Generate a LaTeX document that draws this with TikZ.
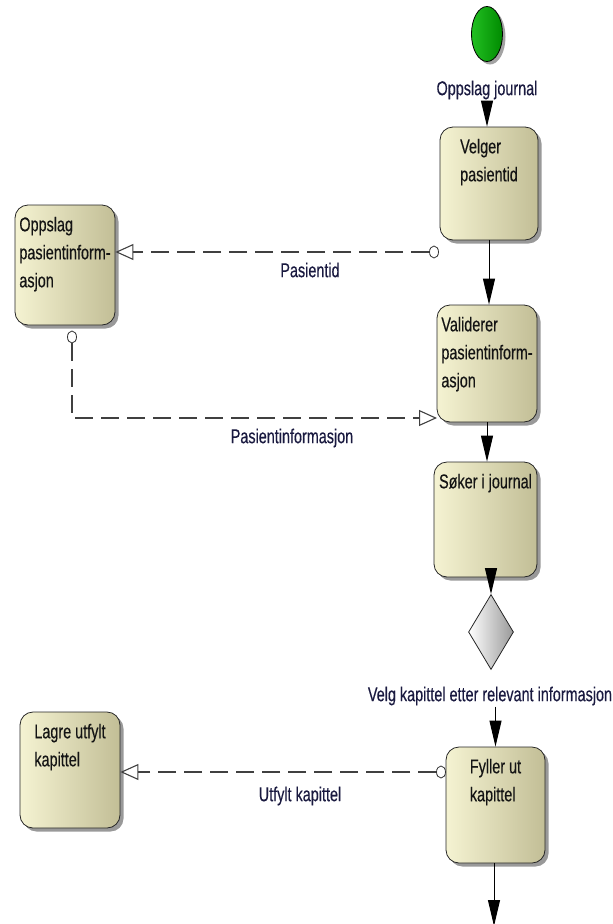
\documentclass[tikz,border=0pt]{standalone}
\usepackage{fontspec}
\setmainfont{Liberation Sans}[FakeStretch=0.72,FakeBold=0.35]
\usetikzlibrary{arrows.meta,shapes.geometric,shadows}
\definecolor{boxl}{HTML}{F5F3D2}
\definecolor{boxr}{HTML}{C2BE96}
\definecolor{labc}{HTML}{1A1A40}
\definecolor{startl}{HTML}{22C022}
\definecolor{startr}{HTML}{008A00}
\begin{document}
\begin{tikzpicture}[x=1pt,y=-1pt,
  act/.style={draw=black!85, line width=0.8pt, rounded corners=13pt,
    left color=boxl, right color=boxr, inner sep=0pt,
    drop shadow={shadow xshift=3.5pt,shadow yshift=-3.5pt,fill=black!50,opacity=0.8}},
  txt/.style={font=\fontsize{20}{28}\selectfont, align=left, inner sep=0pt, anchor=north, text=black!92},
  lbl/.style={font=\fontsize{20}{24}\selectfont, text=labc, inner sep=1pt},
  flow/.style={-{Triangle[length=26pt,width=12pt]}, line width=1pt, draw=black},
  dep/.style={-{Triangle[open,length=18pt,width=16pt]}, dash pattern=on 18pt off 8pt, line width=1.1pt, draw=black!75},
  lolli/.style={ellipse, draw=black!80, fill=white, minimum width=9pt, minimum height=12pt, inner sep=0pt, line width=0.8pt}
]
\useasboundingbox (0,0) rectangle (613,924);

% start node
\node[ellipse, draw=black, line width=0.8pt, left color=startl, right color=startr,
  minimum width=31pt, minimum height=55pt, inner sep=0pt,
  drop shadow={shadow xshift=3pt,shadow yshift=-3pt,fill=black!45,opacity=0.8}] (start) at (487,34) {};
\node[lbl] (lstart) at (487,90) {Oppslag journal};

% activities
\node[act, minimum width=98pt, minimum height=113pt] (velger) at (489,183.5) {};
\node[txt] (velgerT) at ([yshift=-12pt]velger.north) {Velger\\pasientid};

\node[act, minimum width=100pt, minimum height=120pt] (oppslag) at (65,265) {};
\node[txt] (oppslagT) at ([yshift=-12pt]oppslag.north) {Oppslag\\pasientinform-\\asjon};

\node[act, minimum width=100pt, minimum height=117pt] (valid) at (487,363.5) {};
\node[txt] (validT) at ([yshift=-12pt]valid.north) {Validerer\\pasientinform-\\asjon};

\node[act, minimum width=103pt, minimum height=115pt] (soker) at (485.5,519.5) {};
\node[txt] (sokerT) at ([yshift=-12pt]soker.north) {Søker i journal};

\node[diamond, draw=black!85, line width=0.8pt, left color=white, right color=black!40,
  minimum width=45pt, minimum height=75pt, inner sep=0pt] (dec) at (491,632) {};
\node[lbl] (ldec) at (490,696) {Velg kapittel etter relevant informasjon};

\node[act, minimum width=100pt, minimum height=116pt] (lagre) at (70,770) {};
\node[txt] (lagreT) at ([yshift=-12pt]lagre.north) {Lagre utfylt\\kapittel};

\node[act, minimum width=99pt, minimum height=116pt] (fyller) at (495.5,805) {};
\node[txt] (fyllerT) at ([yshift=-12pt]fyller.north) {Fyller ut\\kapittel};

% control flow
\draw[flow] (lstart.south) -- (lstart.south |- velger.north);
\draw[flow] (velger.south) -- (velger.south |- valid.north);
\draw[flow] (valid.south) -- (valid.south |- soker.north);
\draw[flow] (dec.north |- soker.south) -- (dec.north);
\draw[flow] (ldec.south -| fyller.north) -- (fyller.north);
\coordinate (endpt) at (494,926);
\draw[flow] (endpt |- fyller.south) -- (endpt);

% object flows
\node[lolli] (c1) at (434,252) {};
\draw[dep] (c1.west) -- (c1.west -| oppslag.east);
\node[lbl] (l1) at (310,270) {Pasientid};

\node[lolli] (c2) at (72,337) {};
\coordinate (p2) at (437,418);
\draw[dep] (c2.south) |- (p2);
\node[lbl] (l2) at (292,438) {Pasientinformasjon};

\node[lolli] (c3) at (441,772) {};
\draw[dep] (c3.west) -- (c3.west -| lagre.east);
\node[lbl] (l3) at (300,796) {Utfylt kapittel};
\end{tikzpicture}
\end{document}
